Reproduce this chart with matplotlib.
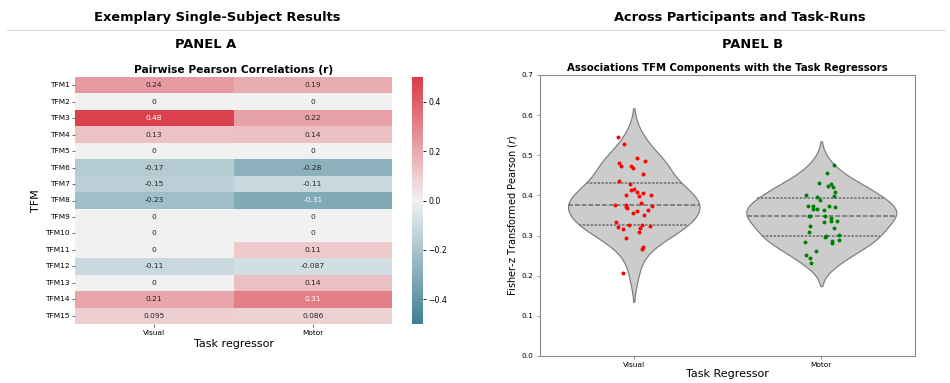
import numpy as np
import pandas as pd
import matplotlib
matplotlib.use("Agg")
import matplotlib.pyplot as plt
import seaborn as sns

# ---- data -------------------------------------------------------------
tfm_labels = [f"TFM{i}" for i in range(1, 16)]
regressors = ["Visual", "Motor"]
visual_r = [0.24, 0, 0.48, 0.13, 0, -0.17, -0.15, -0.23, 0, 0, 0, -0.11, 0, 0.21, 0.095]
motor_r = [0.19, 0, 0.22, 0.14, 0, -0.28, -0.11, -0.31, 0, 0, 0.11, -0.087, 0.14, 0.31, 0.086]

visual_z = [0.546, 0.527, 0.487, 0.493, 0.482, 0.473, 0.468, 0.474, 0.453, 0.435,
            0.429, 0.417, 0.413, 0.408, 0.406, 0.402, 0.400, 0.398, 0.381, 0.377,
            0.376, 0.374, 0.371, 0.368, 0.364, 0.360, 0.356, 0.352, 0.333, 0.327,
            0.327, 0.322, 0.320, 0.325, 0.316, 0.308, 0.294, 0.271, 0.266, 0.206]
motor_z = [0.477, 0.456, 0.424, 0.421, 0.431, 0.429, 0.408, 0.402, 0.399, 0.396,
           0.389, 0.374, 0.373, 0.373, 0.371, 0.366, 0.363, 0.366, 0.349, 0.348,
           0.350, 0.343, 0.336, 0.334, 0.336, 0.323, 0.318, 0.308, 0.302, 0.298,
           0.296, 0.289, 0.286, 0.281, 0.283, 0.262, 0.251, 0.244, 0.232]
point_colors = ["red", "green"]

W, H = 950, 383


def px_axes(fig, left, top, right, bottom):
    return fig.add_axes([left / W, 1 - bottom / H, (right - left) / W, (bottom - top) / H])


fig = plt.figure(figsize=(W / 100, H / 100), dpi=100)
plt.rcParams["font.family"] = ["DejaVu Sans"]

# section headers and divider
fig.text(217 / W, 1 - 17 / H, "Exemplary Single-Subject Results", ha="center", va="center",
         fontsize=9.4, fontweight="bold")
fig.text(740 / W, 1 - 17 / H, "Across Participants and Task-Runs", ha="center", va="center",
         fontsize=9.4, fontweight="bold")
fig.add_artist(plt.Line2D([7 / W, 945 / W], [1 - 30 / H, 1 - 30 / H], color="#d9d9d9", lw=0.8))
fig.text(206 / W, 1 - 45 / H, "PANEL A", ha="center", va="center", fontsize=9.4, fontweight="bold")
fig.text(753 / W, 1 - 45 / H, "PANEL B", ha="center", va="center", fontsize=9.4, fontweight="bold")

# ---- panel A: heatmap -------------------------------------------------
ax_h = px_axes(fig, 75, 77, 392, 324)
ax_cb = px_axes(fig, 412, 77, 423, 324)
mat = np.column_stack([visual_r, motor_r])
cmap = sns.diverging_palette(220, 10, as_cmap=True)
sns.heatmap(mat, ax=ax_h, cbar_ax=ax_cb, cmap=cmap, vmin=-0.5, vmax=0.5, center=0,
            annot=True, fmt=".2g", annot_kws={"fontsize": 5.4},
            xticklabels=regressors, yticklabels=tfm_labels)
ax_h.set_title("Pairwise Pearson Correlations (r)", fontsize=7.7, fontweight="bold", pad=3)
ax_h.set_xlabel("Task regressor", fontsize=8)
ax_h.set_ylabel("TFM", fontsize=8)
ax_h.xaxis.set_label_coords(0.5, -0.062)
ax_h.yaxis.set_label_coords(-0.107, 0.5)
ax_h.tick_params(axis="both", labelsize=5.3, length=2, width=0.6, color="#555555", pad=2)
ax_h.tick_params(axis="y", rotation=0)
ax_cb.tick_params(labelsize=5.6, length=2, width=0.6, pad=2)
ax_cb.set_yticks([-0.4, -0.2, 0.0, 0.2, 0.4])

# ---- panel B: violins with individual points --------------------------
ax_v = px_axes(fig, 540, 75, 915, 356)
groups = [visual_z, motor_z]
df = pd.DataFrame({
    "Task Regressor": np.repeat(regressors, [len(g) for g in groups]),
    "z": np.concatenate(groups),
})
sns.violinplot(data=df, x="Task Regressor", y="z", ax=ax_v, inner="quartile",
               color="0.8", linecolor="0.5", linewidth=0.9, saturation=1,
               inner_kws={"linewidth": 1.4, "color": "0.5"})
rng = np.random.default_rng(3)
for i, (vals, col) in enumerate(zip(groups, point_colors)):
    xs = i + rng.uniform(-0.1, 0.1, len(vals))
    ax_v.scatter(xs, vals, s=8, color=col, zorder=3, linewidths=0)
ax_v.set_ylim(0, 0.7)
ax_v.set_xlim(-0.5, 1.5)
ax_v.set_title("Associations TFM Components with the Task Regressors", fontsize=7.3,
               fontweight="bold", pad=3)
ax_v.set_xlabel("Task Regressor", fontsize=8)
ax_v.set_ylabel("Fisher-z Transformed Pearson ($r$)", fontsize=7.0)
ax_v.xaxis.set_label_coords(0.5, -0.045)
ax_v.yaxis.set_label_coords(-0.056, 0.5)
ax_v.tick_params(labelsize=5.3, length=2.5, width=0.6, color="0.5", pad=2)
for sp in ax_v.spines.values():
    sp.set_color("0.55")
    sp.set_linewidth(0.8)

fig.savefig("out.png", dpi=100)
